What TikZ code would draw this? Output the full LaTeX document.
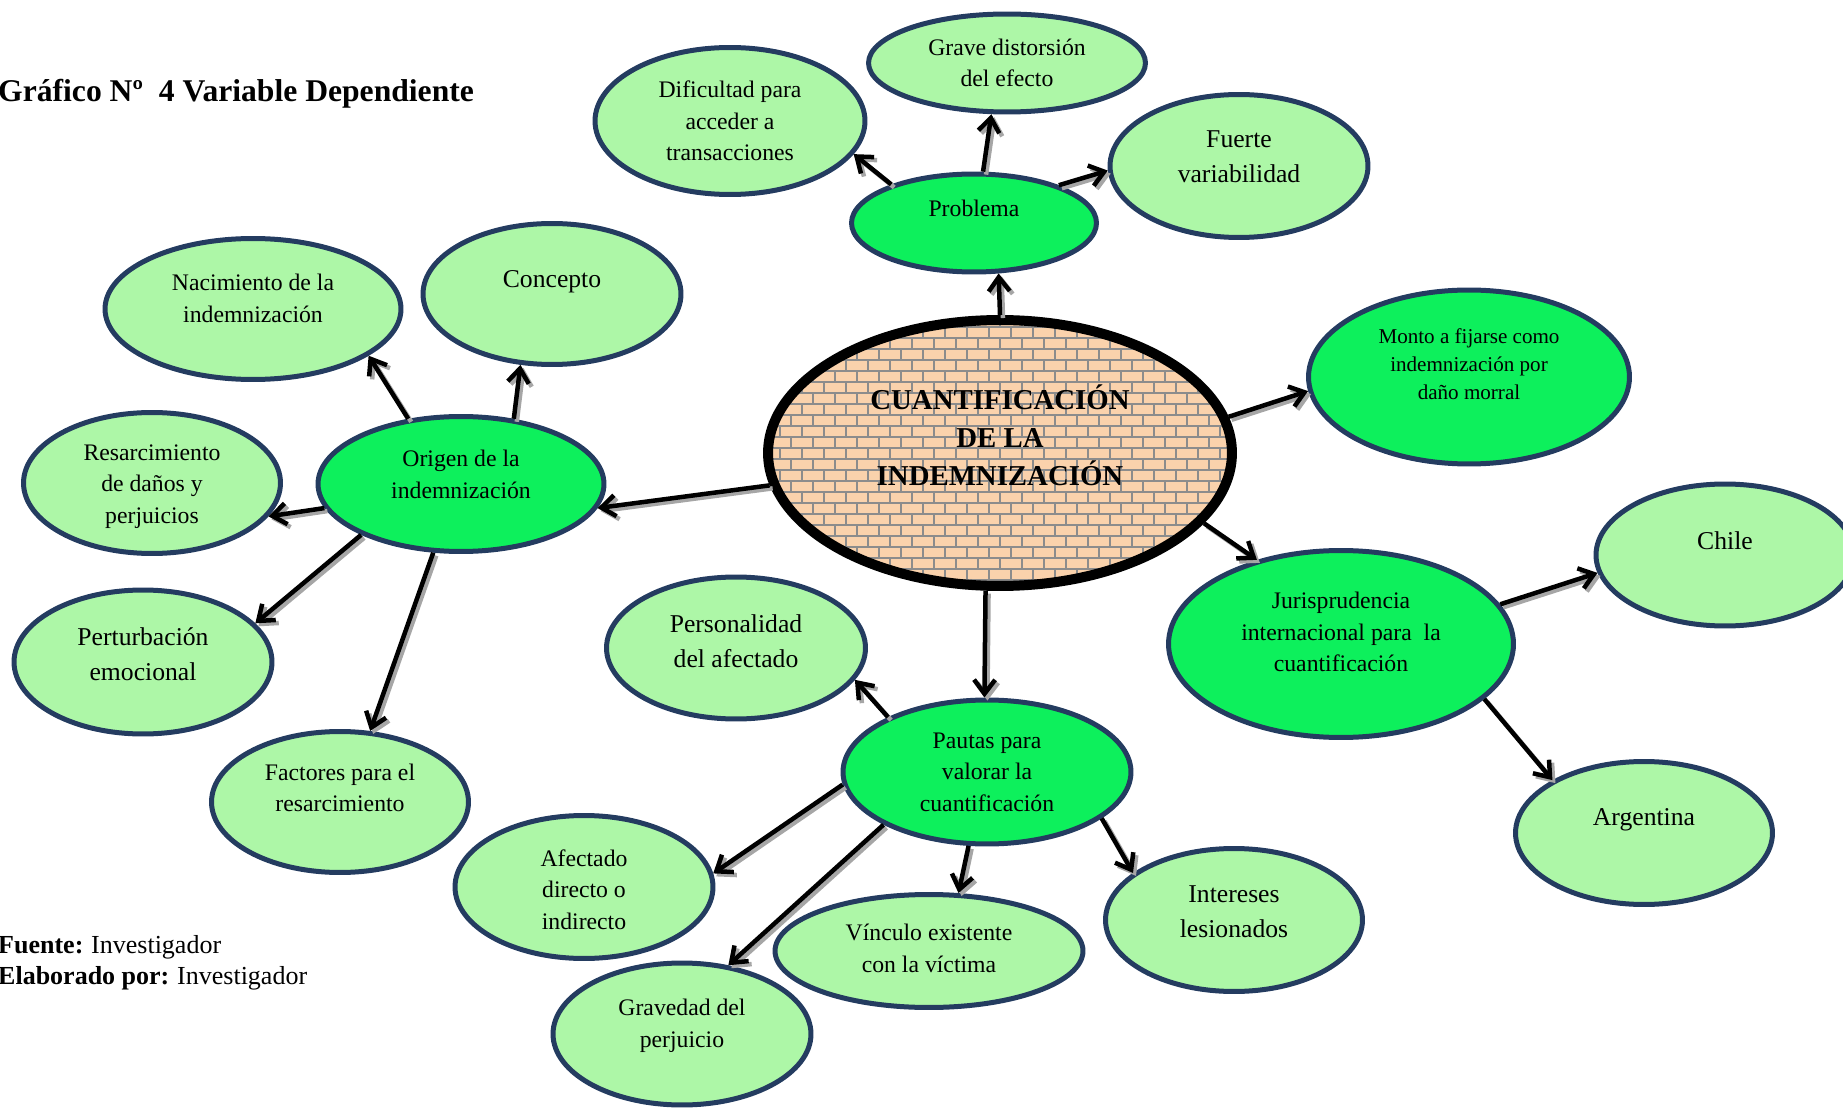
\documentclass[tikz,border=0pt]{standalone}
\usepackage{fontspec}
\setmainfont{Liberation Serif}
\usetikzlibrary{shapes.geometric,arrows.meta}

\definecolor{verdeclaro}{RGB}{173,247,167}
\definecolor{verdefuerte}{RGB}{13,240,92}
\definecolor{borde}{RGB}{36,60,96}
\definecolor{ladrillo}{RGB}{250,210,172}
\definecolor{junta}{RGB}{140,140,140}

\tikzset{
  hoja/.style={ellipse, draw=borde, line width=0.1cm, fill=verdeclaro, inner sep=0pt,
    minimum width=5.16cm, minimum height=2.84cm},
  rama/.style={hoja, fill=verdefuerte},
  chico/.style={font=\fontsize{13.5}{18}\selectfont, align=center},
  grande/.style={font=\fontsize{14.6}{20}\selectfont, align=center},
  punta/.style={-{Straight Barb[length=8pt,width=12pt]}},
  flecha/.style={line width=0.09cm, punta,
    preaction={draw=black!35, line width=0.09cm, punta, transform canvas={shift={(0.06cm,-0.06cm)}}}}
}

\begin{document}
\begin{tikzpicture}[x=0.02cm, y=-0.02cm]
		%%%%% START %%%%%
		\useasboundingbox (0,0) rectangle (1843,1111);
		
		\node[anchor=west, font=\fontsize{18}{22}\selectfont\bfseries] (titulo) at (-8,94) {Gráfico Nº\ \ 4 Variable Dependiente};
		\node[anchor=west, align=left, font=\fontsize{14.8}{17.6}\selectfont] (fuente) at (-8,963)
		  {\textbf{Fuente:}\hspace{0.3em}Investigador\\\textbf{Elaborado por:}\hspace{0.3em}Investigador};
		
		% centro de ladrillos
		\begin{scope}
		  \clip (1000,453) ellipse [x radius=4.64cm, y radius=2.66cm];
		  \fill[ladrillo] (760,315) rectangle (1240,595);
		  \foreach \f in {0,...,25} {
		    \pgfmathsetmacro\yy{316+11*\f}
		    \draw[junta, line width=0.045cm] (760,\yy) -- (1240,\yy);
		    \foreach \c in {0,...,22} {
		      \pgfmathsetmacro\xx{758+22*\c+11*mod(\f,2)}
		      \draw[junta, line width=0.045cm] (\xx,\yy) -- (\xx,\yy+11);
		    }
		  }
		\end{scope}
		\node[ellipse, draw=black, line width=0.2cm, inner sep=0pt, minimum width=9.28cm, minimum height=5.32cm,
		  label={[font=\fontsize{16.4}{21.6}\selectfont\bfseries, align=center, yshift=0.36cm]center:{CUANTIFICACIÓN\\DE LA\\INDEMNIZACIÓN}}] (cen) at (1000,453) {};
		
		% arriba
		\node[rama, minimum width=4.9cm, minimum height=1.96cm, label={[chico, yshift=0.3cm]center:Problema}] (prob) at (974,223) {};
		\node[hoja, minimum width=5.54cm, minimum height=1.96cm, label={[chico]center:{Grave distorsión\\del efecto}}] (grave) at (1007,63) {};
		\node[hoja, minimum width=5.4cm, minimum height=2.94cm, label={[chico]center:{Dificultad para\\acceder a\\transacciones}}] (dific) at (730,121) {};
		\node[hoja, minimum height=2.86cm, label={[grande, yshift=0.19cm]center:{Fuerte\\variabilidad}}] (fuerte) at (1239,166) {};
		
		% izquierda
		\node[rama, minimum width=5.72cm, minimum height=2.7cm, label={[chico, yshift=0.19cm]center:{Origen de la\\indemnización}}] (origen) at (461,484) {};
		\node[hoja, minimum height=2.82cm, label={[grande, yshift=0.24cm]center:Concepto}] (concepto) at (552,294) {};
		\node[hoja, minimum width=5.92cm, minimum height=2.82cm, label={[chico, yshift=0.21cm]center:{Nacimiento de la\\indemnización}}] (nacim) at (253,309) {};
		\node[hoja, minimum width=5.14cm, minimum height=2.82cm, label={[chico, yshift=-0.07cm]center:{Resarcimiento\\de daños y\\perjuicios}}] (resarc) at (152,483) {};
		\node[hoja, minimum height=2.88cm, label={[grande, yshift=0.16cm]center:{Perturbación\\emocional}}] (perturb) at (143,662) {};
		\node[hoja, minimum width=5.14cm, minimum height=2.82cm, label={[chico, yshift=0.28cm]center:{Factores para el\\resarcimiento}}] (factores) at (340,802) {};
		
		% abajo
		\node[rama, minimum width=5.76cm, minimum height=2.88cm, label={[chico]center:{Pautas para\\valorar la\\cuantificación}}] (pautas) at (987,772) {};
		\node[hoja, minimum width=5.18cm, label={[grande, yshift=0.14cm]center:{Personalidad\\del afectado}}] (personal) at (736,648) {};
		\node[hoja, minimum height=2.86cm, label={[chico, yshift=-0.05cm]center:{Afectado\\directo o\\indirecto}}] (afectado) at (584,887) {};
		\node[hoja, label={[chico, yshift=0.16cm]center:{Gravedad del\\perjuicio}}] (gravedad) at (682,1034) {};
		\node[hoja, minimum width=6.16cm, minimum height=2.26cm, label={[chico, yshift=0.05cm]center:{Vínculo existente\\con la víctima}}] (vinculo) at (929,951) {};
		\node[hoja, minimum width=5.14cm, minimum height=2.86cm, label={[grande, yshift=0.16cm]center:{Intereses\\lesionados}}] (intereses) at (1234,920) {};
		
		% derecha
		\node[rama, minimum width=6.42cm, minimum height=3.48cm, label={[font=\fontsize{12}{16}\selectfont, align=center, yshift=0.26cm]center:{Monto a fijarse como\\indemnización por\\daño morral}}] (monto) at (1469,377) {};
		\node[rama, minimum width=6.9cm, minimum height=3.74cm, label={[chico, yshift=0.24cm]center:{Jurisprudencia\\internacional para\ \ la\\cuantificación}}] (juris) at (1341,644) {};
		\node[hoja, label={[grande, yshift=0.28cm]center:Chile}] (chile) at (1725,555) {};
		\node[hoja, minimum width=5.14cm, minimum height=2.86cm, label={[grande, yshift=0.26cm]center:Argentina}] (argentina) at (1644,833) {};
		
		% flechas
		\draw[flecha] (cen.90) -- (prob.-64);
		\draw[flecha] (prob.155) -- (dific.-15);
		\draw[flecha] (prob.80) -- (grave.-107);
		\draw[flecha] (prob.24) -- (fuerte.182);
		
		\draw[flecha] (cen.188) -- (origen.-10);
		\draw[flecha] (origen.51) -- (concepto.-114);
		\draw[flecha] (origen.129) -- (nacim.-22);
		\draw[flecha] (origen.190) -- (resarc.-16);
		\draw[flecha] (origen.207) -- (perturb.19);
		\draw[flecha] (origen.248) -- (factores.67);
		
		\draw[flecha] (cen.9) -- (monto.185);
		\draw[flecha] (cen.-19) -- (juris.135);
		\draw[flecha] (juris.14) -- (chile.188);
		\draw[flecha] (juris.-21) -- (argentina.150);
		
		\draw[flecha] (cen.264) -- (pautas.92);
		\draw[flecha] (pautas.151) -- (personal.-15);
		\draw[flecha] (pautas.185) -- (afectado.6);
		\draw[flecha] (pautas.207) -- (gravedad.56);
		\draw[flecha] (pautas.256) -- (vinculo.63);
		\draw[flecha] (pautas.-22) -- (intereses.155);
		
		%%%%% END %%%%%
	\end{tikzpicture}
\end{document}
